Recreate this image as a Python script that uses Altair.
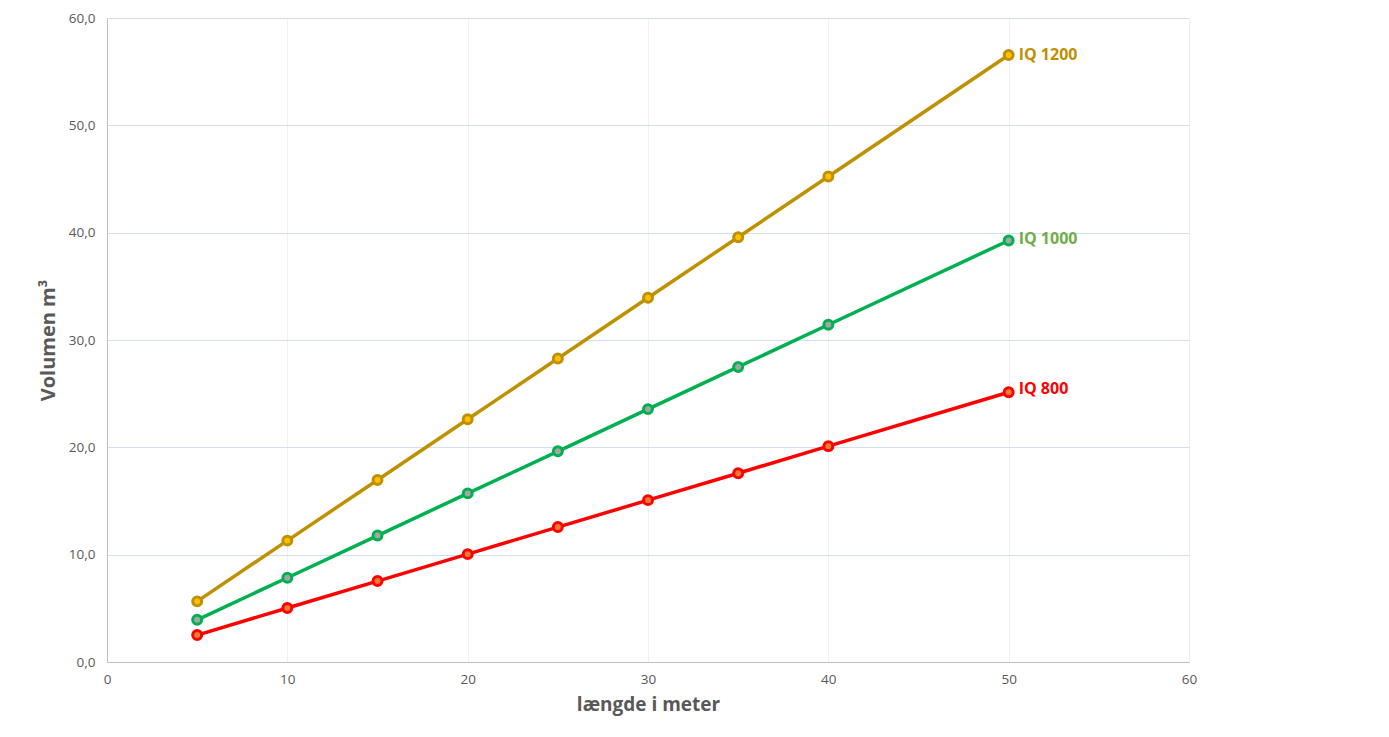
import altair as alt
import pandas as pd

# Data
lengths = [5, 10, 15, 20, 25, 30, 35, 40, 50]
iq800 = [2.51, 5.03, 7.54, 10.05, 12.57, 15.08, 17.59, 20.11, 25.13]
iq1000 = [3.93, 7.85, 11.78, 15.71, 19.63, 23.56, 27.49, 31.42, 39.27]
iq1200 = [5.65, 11.31, 16.96, 22.62, 28.27, 33.93, 39.58, 45.24, 56.55]
series_names = ["IQ 1200", "IQ 1000", "IQ 800"]
series_values = [iq1200, iq1000, iq800]

rows = []
for name, vals in zip(series_names, series_values):
    for x, y in zip(lengths, vals):
        rows.append({"serie": name, "laengde": x, "volumen": y})
df = pd.DataFrame(rows)

styles = {
    "IQ 1200": {"line": "#bf9000", "fill": "#ffc000", "label": "#bf9000", "dy": 0},
    "IQ 1000": {"line": "#00b050", "fill": "#a5a5a5", "label": "#70ad47", "dy": -2},
    "IQ 800": {"line": "#ff0000", "fill": "#ed7d31", "label": "#ff0000", "dy": -3},
}

xscale = alt.Scale(domain=[0, 60], nice=False)
yscale = alt.Scale(domain=[0, 60], nice=False)

xenc = alt.X(
    "laengde:Q",
    scale=xscale,
    axis=alt.Axis(
        title="længde i meter",
        values=[0, 10, 20, 30, 40, 50, 60],
        gridColor="#f0f0f0",
        domainColor="#bfbfbf",
        ticks=False,
        labelFlush=False,
        labelPadding=10,
        labelFontSize=13.5,
        labelColor="#595959",
        titleFontSize=19,
        titleFontWeight="bold",
        titleColor="#595959",
        titlePadding=10,
    ),
)
yenc = alt.Y(
    "volumen:Q",
    scale=yscale,
    axis=alt.Axis(
        title="Volumen m³",
        values=[0, 10, 20, 30, 40, 50, 60],
        labelExpr="replace(format(datum.value, '.1f'), '.', ',')",
        gridColor="#d3dff0",
        domainColor="#bfbfbf",
        ticks=False,
        labelFlush=False,
        labelPadding=12,
        labelFontSize=13.5,
        labelColor="#595959",
        titleFontSize=20,
        titleFontWeight="bold",
        titleColor="#595959",
        titlePadding=10,
    ),
)

base = alt.Chart(df)
layers = []
for name in series_names:
    st = styles[name]
    sub = base.transform_filter(alt.datum.serie == name)
    layers.append(
        sub.mark_line(color=st["line"], strokeWidth=3.5).encode(x=xenc, y=yenc)
    )
for name in series_names:
    st = styles[name]
    sub = base.transform_filter(alt.datum.serie == name)
    layers.append(
        sub.mark_point(
            shape="circle", size=80, filled=False, fill=st["fill"], fillOpacity=1,
            stroke=st["line"], strokeWidth=3, opacity=1
        ).encode(x=xenc, y=yenc)
    )
    layers.append(
        sub.transform_filter(alt.datum.laengde == 50)
        .mark_text(align="left", baseline="middle", dx=10, dy=st["dy"], fontSize=16,
                   fontWeight="bold", color=st["label"], font="Open Sans")
        .encode(x=xenc, y=yenc, text="serie:N")
    )

chart = (
    alt.layer(*layers)
    .properties(
        width=1082,
        height=644,
        autosize=alt.AutoSizeParams(type="none"),
        padding={"left": 99, "top": 10, "right": 190, "bottom": 60},
        background="white",
    )
    .configure_view(stroke=None)
    .configure_axis(labelFont="Open Sans", titleFont="Open Sans")
)

chart.save("out.html", embed_options={"renderer": "svg", "actions": False})
